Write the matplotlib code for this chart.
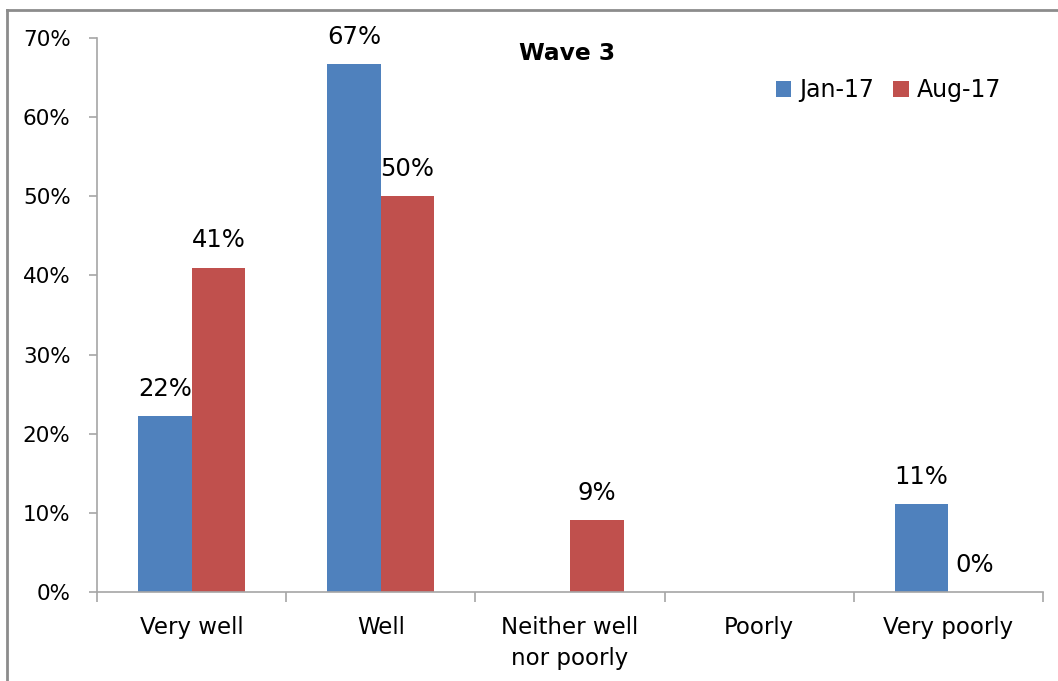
import matplotlib
matplotlib.use("Agg")
import matplotlib.pyplot as plt
from matplotlib.lines import Line2D
import numpy as np

categories = ["Very well", "Well", "Neither well\nnor poorly", "Poorly", "Very poorly"]
series_names = ["Jan-17", "Aug-17"]
jan17 = [22.2, 66.7, 0.0, 0.0, 11.1]
aug17 = [41.0, 50.0, 9.1, 0.0, 0.0]
jan17_labels = ["22%", "67%", None, None, "11%"]
aug17_labels = ["41%", "50%", "9%", None, "0%"]
yticks = [0, 10, 20, 30, 40, 50, 60, 70]
title = "Wave 3"

colors = ["#4F81BD", "#C0504D"]
W, H = 1058, 681
fig = plt.figure(figsize=(W / 100, H / 100), dpi=100)
plt.rcParams['font.family'] = ['DejaVu Sans']

ax = fig.add_axes([97 / W, 1 - 592 / H, 946 / W, 554 / H])
x = np.arange(len(categories))
bw = 0.283
for i, (vals, labs) in enumerate([(jan17, jan17_labels), (aug17, aug17_labels)]):
    offs = (i - 0.5) * bw
    bars = ax.bar(x + offs, vals, width=bw, color=colors[i], label=series_names[i],
                  edgecolor='none')
    for xi, v, lab in zip(x, vals, labs):
        if lab is not None:
            ax.annotate(lab, (xi + offs, v), xytext=(0, 11), textcoords='offset points',
                        ha='center', va='bottom', fontsize=17.5, color='black')

ax.set_xlim(-0.5, len(categories) - 0.5)
ax.set_ylim(0, 70)
ax.set_yticks(yticks)
ax.set_yticklabels([f"{t}%" for t in yticks], fontsize=15.5)
ax.set_xticks(x)
ax.set_xticklabels(categories, fontsize=16.5, linespacing=1.45)
ax.set_xticks(np.arange(-0.5, len(categories)), minor=True)
ax.tick_params(axis='x', which='major', length=0, pad=17)
ax.tick_params(axis='x', which='minor', length=7, width=1.2, color='#a6a6a6', direction='out')
ax.tick_params(axis='y', length=6, width=1.2, color='#a6a6a6', pad=13)
for s in ['top', 'right']:
    ax.spines[s].set_visible(False)
ax.spines['left'].set_color('#a6a6a6')
ax.spines['bottom'].set_color('#a6a6a6')
ax.spines['left'].set_linewidth(1.2)
ax.spines['bottom'].set_linewidth(1.2)

fig.text(567 / W, 1 - 53 / H, title, ha='center', va='center', fontsize=16.8,
         fontweight='bold')

leg = fig.legend(loc='center left', bbox_to_anchor=(776 / W, 1 - 90 / H),
                 ncol=2, frameon=False, fontsize=17, handlelength=0.65,
                 handleheight=0.65, handletextpad=0.35, columnspacing=0.8,
                 borderpad=0, borderaxespad=0)

# outer frame (partially cropped)
fig.add_artist(Line2D([7 / W, 1.0], [1 - 10 / H, 1 - 10 / H], transform=fig.transFigure,
                      color='#8c8c8c', linewidth=2.0))
fig.add_artist(Line2D([7 / W, 7 / W], [1 - 10 / H, 0.0], transform=fig.transFigure,
                      color='#8c8c8c', linewidth=2.0))

fig.savefig("out.png", dpi=100)
